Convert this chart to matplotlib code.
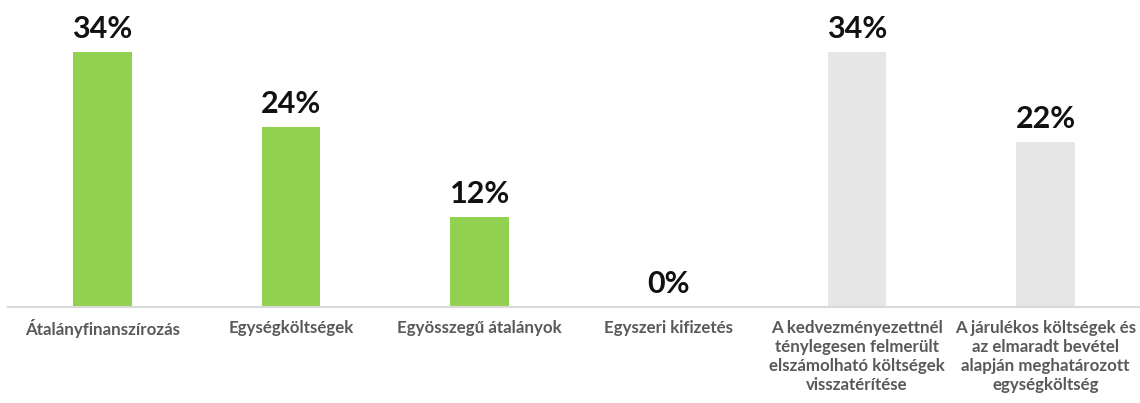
import matplotlib.pyplot as plt

categories = [
    "Átalányfinanszírozás",
    "Egységköltségek",
    "Egyösszegű átalányok",
    "Egyszeri kifizetés",
    "A kedvezményezettnél\nténylegesen felmerült\nelszámolható költségek\nvisszatérítése",
    "A járulékos költségek és\naz elmaradt bevétel\nalapján meghatározott\negységköltség",
]
values = [34, 24, 12, 0, 34, 22]
bar_colors = ["#92D050", "#92D050", "#92D050", "#92D050", "#E7E6E6", "#E7E6E6"]

plt.rcParams["font.family"] = ["Lato", "DejaVu Sans"]

fig = plt.figure(figsize=(11.4, 4.03), dpi=100)
ax = fig.add_axes([8 / 1140, 96 / 403, 1132 / 1140, 300 / 403])

x = range(len(values))
bars = ax.bar(x, values, width=0.31, color=bar_colors)

for rect, v in zip(bars, values):
    ax.text(rect.get_x() + rect.get_width() / 2, v + 1.2, f"{v}%",
            ha="center", va="bottom", fontsize=22, fontweight="bold",
            color="#111111")

ax.set_xlim(-0.5, len(values) - 0.5)
ax.set_ylim(0, 40)
ax.set_xticks(list(x))
ax.set_xticklabels(categories, fontsize=12.2, fontweight="bold", color="#595959",
                   linespacing=1.24)
ax.tick_params(axis="x", length=0, pad=9)
ax.set_yticks([])

for side in ["top", "right", "left"]:
    ax.spines[side].set_visible(False)
ax.spines["bottom"].set_color("#D9D9D9")
ax.spines["bottom"].set_linewidth(1.5)

fig.savefig("out.png", dpi=100)
